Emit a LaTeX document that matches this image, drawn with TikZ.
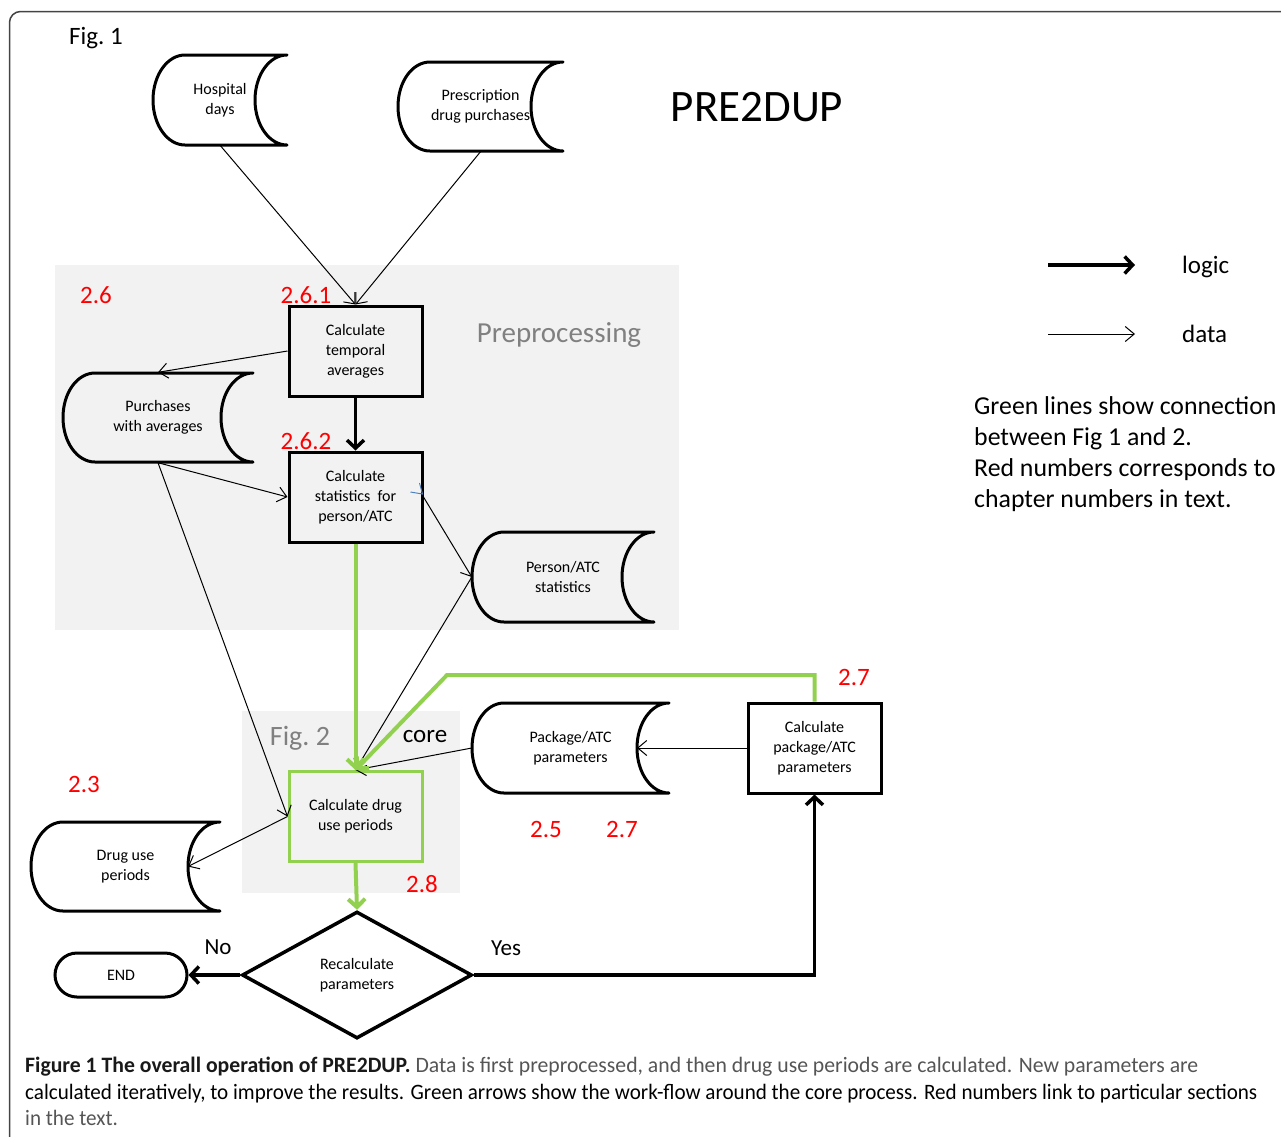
\documentclass[tikz,border=0pt]{standalone}
\usepackage{fontspec}
\setmainfont{Carlito}
\usetikzlibrary{arrows.meta,shapes.geometric,calc}
\definecolor{grn}{HTML}{92D050}
\definecolor{bgg}{HTML}{F2F2F2}
\definecolor{framec}{HTML}{444444}
\definecolor{capgray}{HTML}{555555}
\definecolor{tickblue}{HTML}{4F81BD}
\newsavebox\capB
\newcommand\capfont{\fontsize{22}{26}\selectfont}
\AtBeginDocument{\sbox\capB{\capfont calculated iteratively, to improve the results. Green arrows show the work-flow around the core process. Red numbers link to particular sections}}
\tikzset{
  box/.style={draw, line width=3pt, minimum width=133pt, minimum height=90pt,
    align=center, font=\fontsize{16}{20}\selectfont, inner sep=0pt},
  storetext/.style={minimum height=90pt, inner sep=0pt, align=center,
    font=\fontsize{16}{20}\selectfont},
  storeline/.style={line width=3pt, line cap=round, line join=round},
  dataarrow/.style={line width=1pt, -{Straight Barb[length=9pt,width=15pt]}},
  logicarrow/.style={line width=3.5pt, -{Straight Barb[length=8pt,width=17pt]}},
  greenarrow/.style={draw=grn, line width=4pt, -{Straight Barb[length=8pt,width=17pt]}},
  rednum/.style={text=red, font=\fontsize{25}{30}\selectfont, inner sep=0pt},
  graylabel/.style={text=gray, inner sep=0pt},
  plainlabel/.style={inner sep=0pt},
}
\newcommand\datastore[6]{%
  \pgfmathsetmacro\dsw{#4-#2}%
  \node[storetext, minimum width=\dsw pt] (#1) at ({(#2+#4)/2},{(#3+#5)/2}) {#6};
  \draw[storeline] ({#2+32},#3) -- (#4,#3)
     .. controls ({#4-17.7},#3) and ({#4-32},{(#3+#5)/2-24.9}) .. ({#4-32},{(#3+#5)/2})
     .. controls ({#4-32},{(#3+#5)/2+24.9}) and ({#4-17.7},#5) .. (#4,#5)
     -- ({#2+32},#5)
     .. controls ({#2+14.3},#5) and (#2,{(#3+#5)/2+24.9}) .. (#2,{(#3+#5)/2})
     .. controls (#2,{(#3+#5)/2-24.9}) and ({#2+14.3},#3) .. ({#2+32},#3) -- cycle;
  \coordinate (#1-in) at ({#4-32},{(#3+#5)/2});
}
\begin{document}
\begin{tikzpicture}[x=1pt,y=-1pt]
\useasboundingbox (0,0) rectangle (1281,1136);
% outer frame
\begin{scope}
  \clip (0,0) rectangle (1281,1136);
  \draw[framec, line width=1.5pt, rounded corners=11pt] (9.5,11.5) rectangle (1320,1180);
\end{scope}
% backgrounds
\fill[bgg] (55,265) rectangle (679,630);
\fill[bgg] (242,711) rectangle (460,893);

% texts
\node[plainlabel, font=\fontsize{25}{30}\selectfont] (fig1) at (96,38) {Fig.\ 1};
\node[plainlabel, font=\fontsize{45}{54}\selectfont] (title) at (757,107) {PRE2DUP};
\node[graylabel, font=\fontsize{29}{34}\selectfont] (prep) at (559,335) {Preprocessing};
\node[graylabel, font=\fontsize{28}{34}\selectfont] (fig2) at (300,738) {Fig.\ 2};
\node[plainlabel, font=\fontsize{25}{30}\selectfont] (core) at (425,736) {core};

% red numbers
\node[rednum] (r26) at (96,295) {2.6};
\node[rednum] (r261) at (306,295) {2.6.1};
\node[rednum] (r262) at (306,441) {2.6.2};
\node[rednum] (r27a) at (854,677) {2.7};
\node[rednum] (r25) at (546,829) {2.5};
\node[rednum] (r27b) at (622,829) {2.7};
\node[rednum] (r23) at (84,784) {2.3};
\node[rednum] (r28) at (422,884) {2.8};

% data stores
\datastore{hd}{153}{55}{287}{145}{Hospital\\days}
\datastore{pdp}{398}{62}{563}{151}{Prescription\\drug purchases}
\datastore{pa}{63}{373}{253}{462}{Purchases\\with averages}
\datastore{pas}{472}{532}{654}{622}{Person/ATC\\statistics}
\datastore{pkp}{472}{703}{669}{793}{Package/ATC\\parameters}
\datastore{dup}{31}{822}{220}{911}{Drug use\\periods}

% process boxes
\node[box] (b1) at (355.5,351) {Calculate\\temporal\\averages};
\node[box] (b2) at (355.5,497) {Calculate\\statistics\ \ for\\person/ATC};
\node[box, draw=grn] (db) at (355.5,816.5) {Calculate drug\\use periods};
\node[box] (b3) at (814.5,748) {Calculate\\package/ATC\\parameters};
\node[draw, diamond, line width=3.5pt, minimum width=230pt, minimum height=127pt,
  aspect=1.8, inner sep=0pt, align=center, font=\fontsize{16}{20}\selectfont]
  (dia) at (357,975) {Recalculate\\parameters};
\node[draw, line width=3pt, rounded corners=22pt, minimum width=132pt, minimum height=44pt,
  inner sep=0pt, font=\fontsize{16}{20}\selectfont] (end) at (121,975) {END};

\node[plainlabel, font=\fontsize{23}{28}\selectfont] (no) at (218,947) {No};
\node[plainlabel, font=\fontsize{23}{28}\selectfont] (yes) at (506,948) {Yes};

% data connectors
\draw[dataarrow] (hd.south) -- (b1.north);
\draw[dataarrow] (pdp.south) -- (b1.north);
\draw[dataarrow] (b1.west) -- (pa.north);
\draw[dataarrow] (pa.south) -- (b2.west);
\draw[dataarrow] (pa.south) -- (db.west);
\draw[dataarrow] (b2.east) -- (pas.west);
\draw[dataarrow] (pas.west) -- (db.north);
\draw[dataarrow] (pkp.west) -- (db.north);
\draw[dataarrow] (b3.west) -- (pkp-in);
\draw[dataarrow] (db.west) -- (dup-in);
% blue tick
\coordinate (bt) at ($(b2.east)+(-1,-3)$);
\draw[tickblue, line width=1pt] ($(bt)+(-12,-2)$) -- (bt) -- ($(bt)+(-3,-11)$);

% logic connectors
\draw[logicarrow] (b1.south) -- (b2.north);
\draw[logicarrow] (dia.west) -- (end.east);
\draw[logicarrow] (dia.east) -| (b3.south);

% green connectors
\coordinate (gk) at (447,675);
\draw[greenarrow] (b2.south) -- (db.north);
\draw[greenarrow] (b3.north) |- (gk) -- (db.north);
\draw[greenarrow] (db.south) -- (dia.north);

% legend
\coordinate (l1a) at (1048,265);
\coordinate (l1b) at (1135,265);
\coordinate (l2a) at (1048,334);
\coordinate (l2b) at (1135,334);
\draw[logicarrow] (l1a) -- (l1b);
\draw[dataarrow] (l2a) -- (l2b);
\node[plainlabel, anchor=west, font=\fontsize{25}{30}\selectfont] (lg1) at (1182,267) {logic};
\node[plainlabel, anchor=west, font=\fontsize{25}{30}\selectfont] (lg2) at (1182,334) {data};
\node[plainlabel, anchor=north west, align=left, font=\fontsize{25.8}{31}\selectfont] (note) at (974,396)
  {Green lines show connection\\between Fig 1 and 2.\\Red numbers corresponds to\\chapter numbers in text.};

% caption
\pgfmathsetmacro\capsc{1232/\wd\capB}
\node[plainlabel, anchor=base west] (cap1) at (25,1072)
  {\resizebox{1173pt}{\height}{\capfont\textbf{\color{black!90}Figure 1 The overall operation of PRE2DUP.} {\color{capgray}Data is first preprocessed, and then drug use periods are calculated. New parameters are}}};
\node[plainlabel, anchor=base west, text=capgray] (cap2) at (25,1099)
  {\resizebox{1232pt}{\height}{\usebox\capB}};
\node[plainlabel, anchor=base west, text=capgray] (cap3) at (25,1125)
  {\scalebox{\capsc}[1]{\capfont in the text.}};
\end{tikzpicture}
\end{document}
